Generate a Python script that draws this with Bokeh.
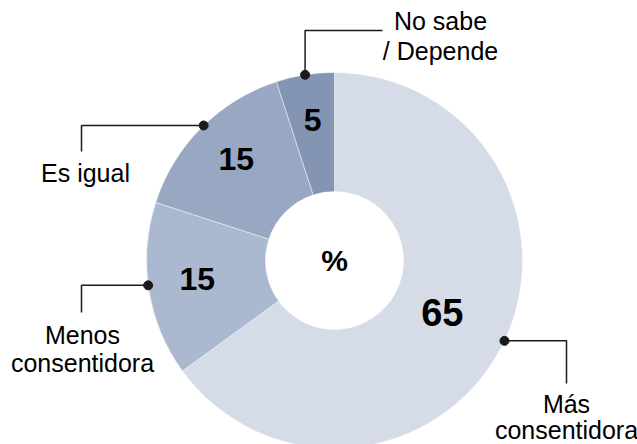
import math
from bokeh.plotting import figure
from bokeh.models import ColumnDataSource
from bokeh.core.properties import value
from bokeh.embed import file_html
from bokeh.resources import INLINE

# ---- data ----
categories = ["Más consentidora", "Menos consentidora", "Es igual", "No sabe / Depende"]
label_lines = [["Más", "consentidora"], ["Menos", "consentidora"], ["Es igual"], ["No sabe", "/ Depende"]]
values = [65, 15, 15, 5]
colors = ["#d6dce7", "#abb9d0", "#98a8c3", "#8495b4"]
center_label = "%"

# ---- layout (screen pixel coords of the 637x444 window; converted to data) ----
W, H = 637, 444
def sy(y):
    return H - y

FONT = value("Liberation Sans")
cx, cy = 334, sy(260)
R_OUT, R_IN = 188, 69

p = figure(width=W, height=H, x_range=(0, W), y_range=(0, H),
           output_backend="svg", toolbar_location=None, min_border=0,
           x_axis_type=None, y_axis_type=None)
p.grid.visible = False
p.outline_line_color = None
p.background_fill_color = "white"
p.border_fill_color = "white"

total = float(sum(values))
starts, ends, mids = [], [], []
cum = 0.0
for v in values:
    a0 = math.pi / 2 - 2 * math.pi * cum / total
    cum += v
    a1 = math.pi / 2 - 2 * math.pi * cum / total
    starts.append(a0)
    ends.append(a1)
    mids.append((a0 + a1) / 2)

src = ColumnDataSource(dict(x=[cx] * len(values), y=[cy] * len(values),
                            start=starts, end=ends, color=colors, cat=categories, val=values))
p.annular_wedge(x="x", y="y", inner_radius=R_IN, outer_radius=R_OUT,
                start_angle="start", end_angle="end", direction="clock",
                fill_color="color", line_color="white", line_alpha=0.45, line_width=1,
                source=src)

# value labels inside slices
vx, vy, vt, vs = [], [], [], []
for v, m in zip(values, mids):
    r = 121 if v > 50 else 139
    vx.append(cx + r * math.cos(m))
    vy.append(cy + r * math.sin(m) + 3)
    vt.append(str(v))
    vs.append("38px" if v > 50 else "32px")
p.text(x=vx, y=vy, text=vt, text_font_size=vs, text_font=FONT, text_font_style="bold",
       text_align="center", text_baseline="middle", text_color="black")

p.text(x=[cx], y=[cy], text=[center_label], text_font_size="30px", text_font=FONT,
       text_font_style="bold", text_align="center", text_baseline="middle", text_color="black")

# leader lines: (kind, elbow coordinate, end coordinate, text x, first baseline, line gap,
#                dot angle tweak in degrees)
leaders = [
    ("h", 566, 383, 566, 403, 26, 1.7),
    ("h", 81, 312, 82, 334, 28, -1.4),
    ("h", 81, 151, 85, 172, 28, -0.9),
    ("v", 30, 382, 440, 20, 30, 0.0),
]
DARK = "#1a1a1a"
dx, dy = [], []
for (kind, a, b, tx, base, gap, tw), m, lines in zip(leaders, mids, label_lines):
    ang = m + math.radians(tw)
    px = cx + R_OUT * math.cos(ang)
    py = cy + R_OUT * math.sin(ang)
    dx.append(px)
    dy.append(py)
    if kind == "h":
        p.line(x=[px, a, a], y=[py, py, sy(b)], line_color=DARK, line_width=1.5)
    else:
        p.line(x=[px, px, b], y=[py, sy(a), sy(a)], line_color=DARK, line_width=1.5)
    for i, t in enumerate(lines):
        p.text(x=[tx], y=[sy(base + i * gap)], text=[t], text_font_size="25px", text_font=FONT,
               text_align="center", text_baseline="alphabetic", text_color="black")

p.scatter(x=dx, y=dy, size=9, marker="circle", fill_color=DARK, line_color=DARK)

open("out.html", "w").write(file_html(p, INLINE))
